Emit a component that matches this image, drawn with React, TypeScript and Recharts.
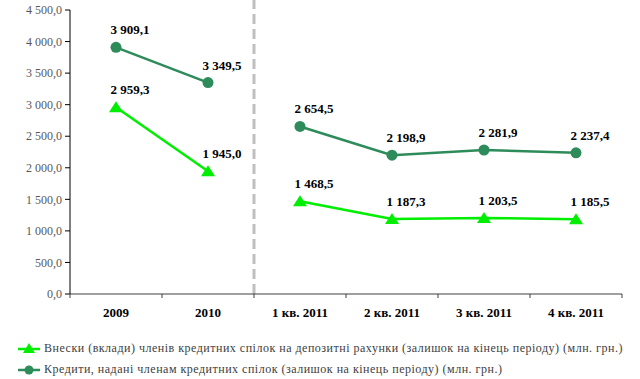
import { LabelList, Line, LineChart, ReferenceLine, XAxis, YAxis } from "recharts";

const periods = ["2009", "2010", "1 кв. 2011", "2 кв. 2011", "3 кв. 2011", "4 кв. 2011"];
const deposits = [2959.3, 1945.0, 1468.5, 1187.3, 1203.5, 1185.5];
const loans = [3909.1, 3349.5, 2654.5, 2198.9, 2281.9, 2237.4];
const yTicks = [0, 500, 1000, 1500, 2000, 2500, 3000, 3500, 4000, 4500];
const xTicks = [0, 0.5, 1, 1.5, 2, 2.5, 3, 3.5, 4, 4.5, 5, 5.5, 6];
const annualCount = 2;

const depositsLabel =
  "Внески (вклади) членів кредитних спілок на депозитні рахунки (залишок на кінець періоду) (млн. грн.)";
const loansLabel = "Кредити, надані членам кредитних спілок (залишок на кінець періоду) (млн. грн.)";

const LIGHT = "#00ee00";
const DARK = "#2e8b5a";
const FONT = "Liberation Serif, DejaVu Serif, serif";

const rows = periods.map((p, i) => ({ x: i + 0.5, period: p, deposits: deposits[i], loans: loans[i] }));
const annualRows = rows.slice(0, annualCount);
const quarterRows = rows.slice(annualCount);

function fmt(v: number): string {
  const [int, dec] = v.toFixed(1).split(".");
  return `${int.replace(/\B(?=(\d{3})+(?!\d))/g, " ")},${dec}`;
}

function XTick(props: any) {
  const { x, y, payload } = props;
  const v = payload.value as number;
  if (Number.isInteger(v)) {
    return <line x1={x} x2={x} y1={y - 4} y2={y} stroke="#404040" />;
  }
  return (
    <text x={x} y={y} dy={19} textAnchor="middle" style={{ fontFamily: FONT }} fontSize={13} fontWeight="bold" fill="#000">
      {periods[Math.floor(v)]}
    </text>
  );
}

function Triangle(props: any) {
  const { cx, cy } = props;
  if (cx == null || cy == null) return null;
  return <polygon points={`${cx},${cy - 6} ${cx + 7},${cy + 5} ${cx - 7},${cy + 5}`} fill={LIGHT} />;
}

function Circle(props: any) {
  const { cx, cy } = props;
  if (cx == null || cy == null) return null;
  return <circle cx={cx} cy={cy} r={5.5} fill={DARK} />;
}

function ValueLabel(props: any) {
  const { x, y, value } = props;
  return (
    <text x={x + 14} y={y - 13} textAnchor="middle" style={{ fontFamily: FONT }} fontSize={13} fontWeight="bold" fill="#000">
      {fmt(value)}
    </text>
  );
}

function LegendRow({ marker, label }: { marker: "tri" | "dot"; label: string }) {
  const color = marker === "tri" ? LIGHT : DARK;
  return (
    <div style={{ display: "flex", alignItems: "center", height: 21 }}>
      <svg width={26} height={14} style={{ marginRight: 2 }}>
        <line x1={2} x2={24} y1={7} y2={7} stroke={color} strokeWidth={2.5} />
        {marker === "tri" ? (
          <polygon points="13,1 19,11 7,11" fill={color} />
        ) : (
          <circle cx={13} cy={7} r={4.5} fill={color} />
        )}
      </svg>
      <span>{label}</span>
    </div>
  );
}

export default function App() {
  return (
    <div style={{ position: "absolute", left: 0, top: 0, width: 640, height: 379, background: "#fff", fontFamily: FONT }}>
      <LineChart width={640} height={379} margin={{ top: 10, right: 18, bottom: 55, left: 0 }} style={{ fontFamily: FONT }}>
        <XAxis
          dataKey="x"
          type="number"
          domain={[0, 6]}
          ticks={xTicks}
          interval={0}
          tick={<XTick />}
          tickLine={false}
          tickSize={4}
          tickMargin={0}
          height={30}
          axisLine={{ stroke: "#404040" }}
        />
        <YAxis
          type="number"
          domain={[0, 4500]}
          ticks={yTicks}
          interval={0}
          width={70}
          tickFormatter={fmt}
          tickSize={5}
          tickMargin={3}
          axisLine={{ stroke: "#000" }}
          tickLine={{ stroke: "#000" }}
          tick={{ fill: "#595959", fontSize: 12, style: { fontFamily: FONT } }}
        />
        <ReferenceLine
          segment={[
            { x: annualCount, y: 0 },
            { x: annualCount, y: 4660 },
          ]}
          ifOverflow="visible"
          stroke="#bfbfbf"
          strokeWidth={3}
          strokeDasharray="10 5"
        />
        {[annualRows, quarterRows].map((d, i) => (
          <Line
            key={`dep${i}`}
            data={d}
            dataKey="deposits"
            stroke={LIGHT}
            strokeWidth={2.5}
            dot={<Triangle />}
            activeDot={false}
            isAnimationActive={false}
          >
            <LabelList dataKey="deposits" content={<ValueLabel />} />
          </Line>
        ))}
        {[annualRows, quarterRows].map((d, i) => (
          <Line
            key={`loan${i}`}
            data={d}
            dataKey="loans"
            stroke={DARK}
            strokeWidth={2.5}
            dot={<Circle />}
            activeDot={false}
            isAnimationActive={false}
          >
            <LabelList dataKey="loans" content={<ValueLabel />} />
          </Line>
        ))}
      </LineChart>
      <div
        style={{
          position: "absolute",
          left: 16,
          top: 338,
          fontSize: 12,
          letterSpacing: 0.5,
          color: "#404040",
          whiteSpace: "nowrap",
        }}
      >
        <LegendRow marker="tri" label={depositsLabel} />
        <LegendRow marker="dot" label={loansLabel} />
      </div>
    </div>
  );
}
